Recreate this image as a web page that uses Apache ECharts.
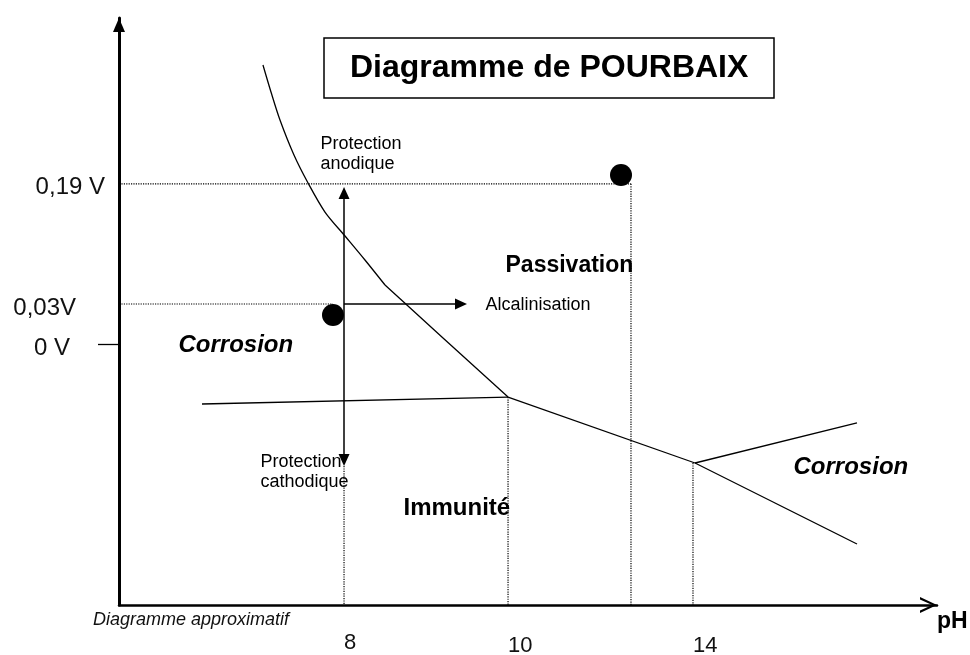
<!DOCTYPE html>
<html>
<head>
<meta charset="utf-8">
<script src="https://cdn.jsdelivr.net/npm/echarts@6/dist/echarts.min.js"></script>
<style>html,body{margin:0;padding:0;background:#fff}#c{width:970px;height:655px}</style>
</head>
<body>
<div id="c"></div>
<script>
// ---- Data (schematic units: both axes 0..100, not linear in pH or volts) ----
const xTickPos = [27.51, 47.56, 70.17];
const xTickLabels = ['8', '10', '14'];
const yTickPos = [71.75, 51.28, 44.46];
const yTickLabels = ['0,19 V', '0,03V', '0 V'];

const anodicCurve = [[17.60, 91.99], [18.58, 87.39], [19.68, 82.62], [21.39, 76.66], [23.11, 71.89],
  [25.18, 66.95], [27.63, 62.86], [30.07, 58.77], [32.52, 54.51]];
const anodicStraight = [[32.52, 54.51], [39.61, 45.49], [47.56, 35.43]];
const immunityLine = [[10.15, 34.24], [47.56, 35.43]];
const lowerBoundary = [[47.56, 35.43], [70.42, 24.19]];
const upperBranch = [[70.42, 24.19], [90.22, 31.01]];
const lowerBranch = [[70.42, 24.19], [90.22, 10.39]];

const guideLines = [
  [[0, 71.75], [62.59, 71.75]],
  [[0, 51.28], [26.16, 51.28]],
  [[27.51, 23.68], [27.51, 0]],
  [[47.56, 35.43], [47.56, 0]],
  [[62.59, 71.75], [62.59, 0]],
  [[70.17, 24.19], [70.17, 0]]
];

const points = [[61.37, 73.25], [26.16, 49.40]];

const protectionArrow = [[27.51, 70.19], [27.51, 24.70]];
const alkalinisationArrow = [[27.51, 51.28], [41.81, 51.28]];

const noteTexts = ['Protection\nanodique', 'Protection\ncathodique', 'Alcalinisation'];
const noteAnchors = [[24.57, 76.83], [17.24, 22.66], [44.74, 51.11]];
const regionNames = ['Passivation', 'Corrosion', 'Immunité', 'Corrosion'];
const regionAnchors = [[47.19, 57.75], [7.21, 44.29], [34.72, 16.52], [82.40, 23.51]];

const titleText = 'Diagramme de POURBAIX';
const footNote = 'Diagramme approximatif';
const xName = 'pH';

// ---- Chart ----
const FONT = '"Liberation Sans", Arial, sans-serif';
const chart = echarts.init(document.getElementById('c'), null, {renderer: 'canvas'});

function lineSeries(data, style, smooth) {
  return {
    type: 'line', data: data, symbol: 'none', silent: true, animation: false, smooth: smooth || false,
    lineStyle: Object.assign({color: '#000', width: 1.3}, style || {}), z: 3
  };
}

const series = [];
series.push(lineSeries(anodicCurve, null, 0.3));
series.push(lineSeries(anodicStraight));
series.push(lineSeries(immunityLine));
series.push(lineSeries(lowerBoundary));
series.push(lineSeries(upperBranch));
series.push(lineSeries(lowerBranch));
guideLines.forEach(g => series.push(lineSeries(g, {type: 'dotted', width: 1.2, color: '#000'})));

// arrows
series.push({
  type: 'line', data: [], silent: true, animation: false,
  markLine: {
    silent: true, animation: false,
    symbolSize: [11, 12],
    label: {show: false},
    lineStyle: {type: 'solid', color: '#000', width: 1.5, opacity: 1},
    itemStyle: {color: '#000'},
    emphasis: {disabled: true},
    data: [
      [{coord: protectionArrow[0], symbol: 'triangle'}, {coord: protectionArrow[1], symbol: 'triangle'}],
      [{coord: alkalinisationArrow[0], symbol: 'none'}, {coord: alkalinisationArrow[1], symbol: 'triangle'}]
    ]
  }
});

// dots
series.push({
  type: 'scatter', data: points, symbolSize: 22, silent: true, animation: false,
  itemStyle: {color: '#000', opacity: 1}, z: 5
});

// texts
const noteStyle = {fontFamily: FONT, fontSize: 18, color: '#000', lineHeight: 20};
const regionStyle = [
  {fontFamily: FONT, fontSize: 23, fontWeight: 'bold', color: '#000'},
  {fontFamily: FONT, fontSize: 24, fontWeight: 'bold', fontStyle: 'italic', color: '#000'},
  {fontFamily: FONT, fontSize: 24, fontWeight: 'bold', color: '#000'},
  {fontFamily: FONT, fontSize: 24, fontWeight: 'bold', fontStyle: 'italic', color: '#000'}
];
const textData = [];
noteTexts.forEach((t, i) => textData.push({
  value: noteAnchors[i], name: t,
  label: Object.assign({}, noteStyle)
}));
regionNames.forEach((t, i) => textData.push({
  value: regionAnchors[i], name: t,
  label: Object.assign({}, regionStyle[i])
}));
series.push({
  type: 'scatter', data: textData, symbolSize: 1, silent: true, animation: false,
  itemStyle: {color: 'rgba(0,0,0,0)', opacity: 1}, clip: false, z: 6,
  label: {show: true, position: 'right', distance: 0, formatter: p => p.name, align: 'left', verticalAlign: 'middle', opacity: 1}
});

const yPad = [0, 29, 35];
const yRich = {};
yTickLabels.forEach((l, i) => { yRich['r' + i] = {fontFamily: FONT, fontSize: 24, color: '#111', padding: [8, yPad[i], 0, 0]}; });
const xPadTop = [0, 5, 5];
const xRich = {};
xTickLabels.forEach((l, i) => { xRich['r' + i] = {fontFamily: FONT, fontSize: 22, color: '#111', lineHeight: 22, padding: [xPadTop[i], 0, 0, 0]}; });

const chevron = 'path://M0,17 L8,0 L16,17 L13.6,17 L8,4.8 L2.4,17 Z';

chart.setOption({
  backgroundColor: '#fff',
  animation: false,
  title: [
    {
      text: titleText, left: 324, top: 38, padding: [13, 26],
      borderColor: '#000', borderWidth: 1.5,
      textStyle: {fontFamily: FONT, fontSize: 32, fontWeight: 'bold', color: '#000', lineHeight: 34}
    },
    {
      text: footNote, left: 93, top: 611, padding: 0,
      textStyle: {fontFamily: FONT, fontSize: 18, fontStyle: 'italic', fontWeight: 'normal', color: '#111', lineHeight: 18}
    }
  ],
  grid: {left: 119, top: 18, width: 818, height: 587, containLabel: false, outerBoundsMode: 'none'},
  xAxis: {
    type: 'value', min: 0, max: 100,
    name: xName, nameLocation: 'end', nameGap: 0,
    nameTextStyle: {fontFamily: FONT, fontSize: 23, fontWeight: 'bold', color: '#000', align: 'left', verticalAlign: 'top', padding: [5, 0, 0, 0]},
    axisLine: {show: true, symbol: ['none', chevron], symbolSize: [16, 17], symbolOffset: [0, -8.5], lineStyle: {color: '#000', width: 2.5}},
    axisTick: {show: false},
    splitLine: {show: false},
    axisLabel: {
      show: true, customValues: xTickPos, margin: 27, align: 'left', verticalAlign: 'top',
      formatter: v => { const i = xTickPos.indexOf(v); return i < 0 ? '' : '{r' + i + '|' + xTickLabels[i] + '}'; },
      rich: xRich
    }
  },
  yAxis: {
    type: 'value', min: 0, max: 100,
    axisLine: {show: true, symbol: ['none', 'triangle'], symbolSize: [12, 14], symbolOffset: [0, -7], lineStyle: {color: '#000', width: 3}},
    axisTick: {show: true, customValues: [yTickPos[2]], length: 21, inside: false, lineStyle: {color: '#000', width: 1.3}},
    splitLine: {show: false},
    axisLabel: {
      show: true, customValues: yTickPos, margin: 14, align: 'right', verticalAlign: 'middle',
      formatter: v => { const i = yTickPos.indexOf(v); return i < 0 ? '' : '{r' + i + '|' + yTickLabels[i] + '}'; },
      rich: yRich
    }
  },
  series: series
});
</script>
</body>
</html>
